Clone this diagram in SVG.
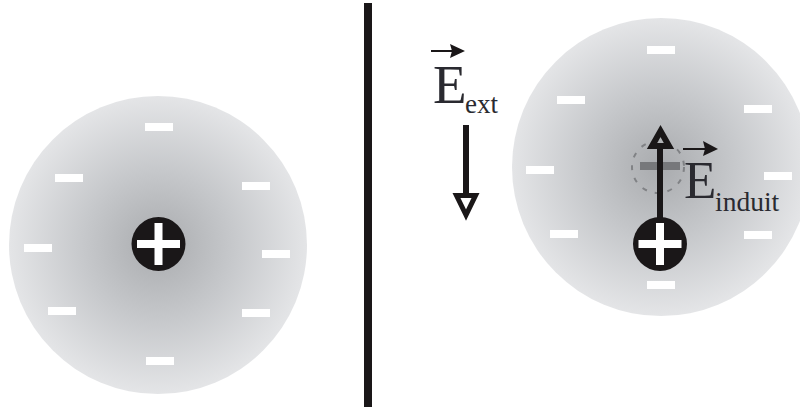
<svg xmlns="http://www.w3.org/2000/svg" width="800" height="407" viewBox="0 0 800 407">
  <style>
    .minus { fill: #fff; }
    .nucleus { fill: #1a1718; }
    .label { font-family: "Liberation Serif", serif; fill: #2a2a30; }
    .wire { stroke: #1a1718; fill: none; }
  </style>
  <defs>
    <radialGradient id="cloudLeft" gradientUnits="userSpaceOnUse" cx="158" cy="245" r="149">
      <stop offset="0" stop-color="#a9abae"/>
      <stop offset="0.5" stop-color="#c6c8cb"/>
      <stop offset="1" stop-color="#e4e5e7"/>
    </radialGradient>
    <radialGradient id="cloudRight" gradientUnits="userSpaceOnUse" cx="660" cy="167" r="149">
      <stop offset="0" stop-color="#a9abae"/>
      <stop offset="0.5" stop-color="#c6c8cb"/>
      <stop offset="1" stop-color="#e4e5e7"/>
    </radialGradient>
    <g id="charge">
      <circle class="nucleus" r="27"/>
      <rect x="-21.500" y="-4" width="43" height="8" fill="#fff"/>
      <rect x="-4" y="-21" width="8" height="42" fill="#fff"/>
    </g>
    <rect id="m" x="-14" y="-4" width="28" height="8" class="minus"/>
  </defs>

  <rect width="800" height="407" fill="#fff"/>

  <g id="divider">
    <rect x="364" y="3" width="8" height="404" fill="#1a1718"/>
  </g>

  <g id="atom-left">
    <circle cx="158" cy="245" r="149" fill="url(#cloudLeft)"/>
    <use href="#m" x="159" y="127"/>
    <use href="#m" x="69" y="178"/>
    <use href="#m" x="256" y="186"/>
    <use href="#m" x="38" y="248"/>
    <use href="#m" x="276" y="254"/>
    <use href="#m" x="62" y="311"/>
    <use href="#m" x="256" y="313"/>
    <use href="#m" x="160" y="361"/>
    <use href="#charge" x="158.500" y="244"/>
  </g>

  <g id="atom-right">
    <circle cx="661" cy="167" r="149" fill="url(#cloudRight)"/>
    <use href="#m" x="661" y="50"/>
    <use href="#m" x="571" y="100"/>
    <use href="#m" x="758" y="109"/>
    <use href="#m" x="540" y="170"/>
    <use href="#m" x="778" y="176"/>
    <use href="#m" x="564" y="234"/>
    <use href="#m" x="758" y="235"/>
    <use href="#m" x="661" y="285"/>
  </g>

  <g id="displaced-cloud">
    <circle cx="658" cy="167" r="26" fill="none" stroke="#808285" stroke-width="2" stroke-dasharray="5 8"/>
    <rect x="640" y="162" width="40" height="8" fill="#77787b"/>
  </g>

  <g id="connectors">
    <path class="wire" stroke-width="6" d="M660 225V147"/>
    <path class="wire" stroke-width="6" d="M660.500 131L669 146H652Z"/>
    <path class="wire" stroke-width="6" d="M466 125V198"/>
    <path class="wire" stroke-width="5" d="M466 215L456.500 195.500H475.500Z"/>
  </g>

  <g id="charge-right">
    <use href="#charge" x="660" y="244"/>
  </g>

  <g id="field-ext">
    <path d="M431 51H455" stroke="#1a1718" stroke-width="2" fill="none"/>
    <path d="M450 44L465 51L450 58L452 51Z" fill="#1a1718"/>
    <text class="label" x="433" y="103" font-size="55">E</text>
    <text class="label" x="465" y="113" font-size="27">ext</text>
  </g>

  <g id="field-induit">
    <path d="M683 149H708" stroke="#1a1718" stroke-width="2" fill="none"/>
    <path d="M703 141L718 149L703 156L705 149Z" fill="#1a1718"/>
    <text class="label" x="684" y="198" font-size="53">E</text>
    <text class="label" x="715" y="211" font-size="27.500">induit</text>
  </g>
</svg>
